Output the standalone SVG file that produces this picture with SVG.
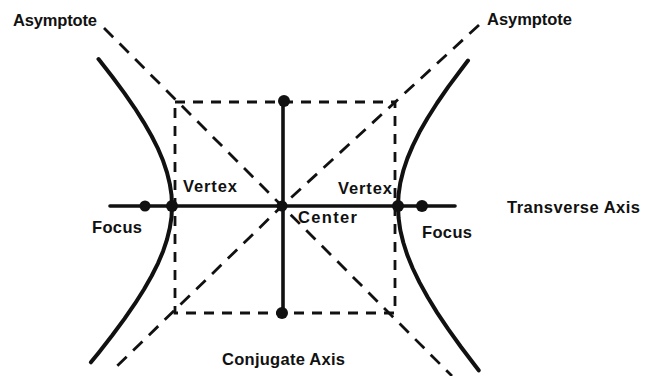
<svg xmlns="http://www.w3.org/2000/svg" width="655" height="376" viewBox="0 0 655 376">
<style>
.lbl{font-family:"Liberation Sans",Arial,sans-serif;font-weight:bold;font-size:16.5px;fill:#111}
.dash{fill:none;stroke:#111;stroke-width:2.8;stroke-dasharray:13 9}
.box{fill:none;stroke:#111;stroke-width:2.8;stroke-dasharray:10 8}
.solid{fill:none;stroke:#111;stroke-width:3.6;stroke-linecap:round}
.curve{fill:none;stroke:#111;stroke-width:4;stroke-linecap:round;stroke-linejoin:round}
.dot{fill:#111}
</style>
<rect width="655" height="376" fill="#fff"/>
<g id="connectors">
<rect class="box" x="175" y="102" width="220" height="211"/>
<line class="dash" x1="104" y1="28" x2="452" y2="376"/>
<polyline class="dash" points="479,25 282,206 112,371"/>
<line class="solid" x1="110" y1="206" x2="455" y2="206"/>
<line class="solid" x1="283" y1="100" x2="283" y2="313"/>
</g>
<g id="left-branch">
<polyline class="curve" points="98.5,59.1 112.3,76.7 124.4,93.1 134.9,108.3 143.9,122.6 151.6,136.0 158.0,148.7 163.1,160.8 167.0,172.5 169.8,183.9 171.5,195.0 172,206 171.5,217.0 169.8,228.1 167.0,239.5 163.1,251.2 158.0,263.3 151.6,276.0 143.9,289.5 134.9,303.7 124.4,318.9 112.3,335.3 98.5,352.9 90.9,362.3"/>
</g>
<g id="right-branch">
<polyline class="curve" points="468.0,60.5 461.0,69.7 448.2,86.9 437.1,103.0 427.6,118.0 419.5,132.1 412.8,145.6 407.4,158.4 403.3,170.7 400.3,182.7 398.6,194.4 398,206 398.6,218.0 400.3,230.2 403.3,242.5 407.4,255.3 412.8,268.5 419.5,282.4 427.6,297.0 437.1,312.6 448.2,329.2 461.0,347.0 475.6,366.3 478.7,370.3"/>
</g>
<g id="center"><circle class="dot" cx="282" cy="206" r="5.5"/><text class="lbl" x="298" y="223" textLength="59">Center</text></g>
<g id="vertex-left"><circle class="dot" cx="172" cy="206" r="6"/><text class="lbl" x="183" y="192" textLength="54">Vertex</text></g>
<g id="vertex-right"><circle class="dot" cx="398" cy="206" r="6"/><text class="lbl" x="338" y="194" textLength="54">Vertex</text></g>
<g id="focus-left"><circle class="dot" cx="145" cy="206" r="5.5"/><text class="lbl" x="92" y="233" textLength="50">Focus</text></g>
<g id="focus-right"><circle class="dot" cx="422" cy="206" r="6"/><text class="lbl" x="422" y="238" textLength="50">Focus</text></g>
<g id="conj-top"><circle class="dot" cx="284" cy="101" r="6"/></g>
<g id="conj-bottom"><circle class="dot" cx="282" cy="313" r="6"/></g>
<g id="asymptote-left"><text class="lbl" x="13" y="26" textLength="84">Asymptote</text></g>
<g id="asymptote-right"><text class="lbl" x="487" y="25" textLength="85">Asymptote</text></g>
<g id="transverse-axis"><text class="lbl" x="507" y="213" textLength="133">Transverse Axis</text></g>
<g id="conjugate-axis"><text class="lbl" x="222" y="365" textLength="123">Conjugate Axis</text></g>
</svg>
